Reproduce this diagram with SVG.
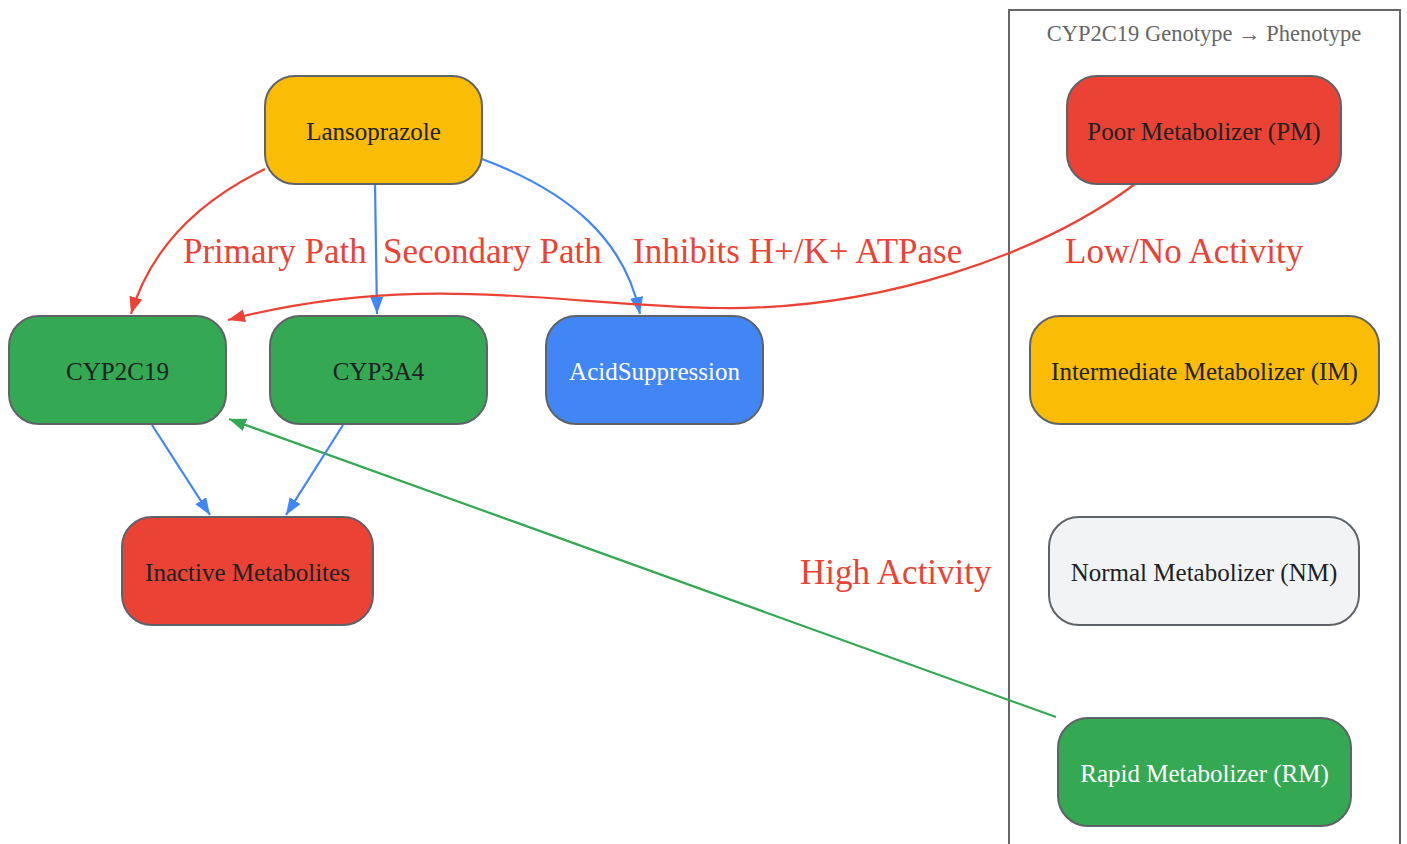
<svg xmlns="http://www.w3.org/2000/svg" width="1407" height="844" viewBox="0 0 1407 844">
<style>
.node rect{stroke:#5f6368;stroke-width:2}
.node text{font-family:"Liberation Serif",serif;font-size:25px;text-anchor:middle;fill:#202124}
.node text.w{fill:#ffffff}
.edge{fill:none;stroke-width:2.2}
.lbl{font-family:"Liberation Serif",serif;font-size:35px;fill:#EA4335}
</style>
<defs>
<marker id="aR" markerUnits="userSpaceOnUse" markerWidth="18" markerHeight="14" refX="17" refY="6.5" orient="auto"><path d="M0,0 L17,6.5 L0,13 z" fill="#EA4335"/></marker>
<marker id="aB" markerUnits="userSpaceOnUse" markerWidth="18" markerHeight="14" refX="17" refY="6.5" orient="auto"><path d="M0,0 L17,6.5 L0,13 z" fill="#4285F4"/></marker>
<marker id="aG" markerUnits="userSpaceOnUse" markerWidth="18" markerHeight="14" refX="17" refY="6.5" orient="auto"><path d="M0,0 L17,6.5 L0,13 z" fill="#34A853"/></marker>
</defs>
<rect width="1407" height="844" fill="#ffffff"/>
<g id="cluster">
<rect x="1009" y="10" width="391" height="850" fill="none" stroke="#666666" stroke-width="2"/>
<text x="1204" y="41" font-family="'Liberation Serif',serif" font-size="22.5" fill="#666666" text-anchor="middle">CYP2C19 Genotype → Phenotype</text>
</g>
<g id="connectors">
<path class="edge" stroke="#EA4335" marker-end="url(#aR)" d="M265,169 C195,203 150,250 131,314"/>
<path class="edge" stroke="#4285F4" marker-end="url(#aB)" d="M375,184 L377,314"/>
<path class="edge" stroke="#4285F4" marker-end="url(#aB)" d="M482,159 C570,192 625,240 640,314"/>
<path class="edge" stroke="#EA4335" marker-end="url(#aR)" d="M1135,184 C1040,255 880,310 720,308 C560,306 420,270 228,320"/>
<path class="edge" stroke="#34A853" marker-end="url(#aG)" d="M1056,717 L229,419"/>
<path class="edge" stroke="#4285F4" marker-end="url(#aB)" d="M152,425 L210,515"/>
<path class="edge" stroke="#4285F4" marker-end="url(#aB)" d="M343,425 L286,515"/>
<text class="lbl" x="183" y="263">Primary Path</text>
<text class="lbl" x="383" y="263">Secondary Path</text>
<text class="lbl" x="633" y="263">Inhibits H+/K+ ATPase</text>
<text class="lbl" x="1065" y="263">Low/No Activity</text>
<text class="lbl" x="800" y="584">High Activity</text>
</g>
<g id="Lansoprazole" class="node"><rect x="265" y="76" width="217" height="108" rx="30" fill="#FBBC05"/><text x="373.5" y="140">Lansoprazole</text></g>
<g id="CYP2C19" class="node"><rect x="9" y="316" width="217" height="108" rx="30" fill="#34A853"/><text x="117.5" y="380">CYP2C19</text></g>
<g id="CYP3A4" class="node"><rect x="270" y="316" width="217" height="108" rx="30" fill="#34A853"/><text x="378.5" y="380">CYP3A4</text></g>
<g id="AcidSuppression" class="node"><rect x="546" y="316" width="217" height="108" rx="30" fill="#4285F4"/><text class="w" x="654.5" y="380">AcidSuppression</text></g>
<g id="InactiveMetabolites" class="node"><rect x="122" y="517" width="251" height="108" rx="30" fill="#EA4335"/><text x="247.5" y="581">Inactive Metabolites</text></g>
<g id="PM" class="node"><rect x="1067" y="76" width="274" height="108" rx="30" fill="#EA4335"/><text x="1204" y="140">Poor Metabolizer (PM)</text></g>
<g id="IM" class="node"><rect x="1030" y="316" width="349" height="108" rx="30" fill="#FBBC05"/><text x="1204.5" y="380">Intermediate Metabolizer (IM)</text></g>
<g id="NM" class="node"><rect x="1049" y="517" width="310" height="108" rx="30" fill="#F1F3F4"/><text x="1204" y="581">Normal Metabolizer (NM)</text></g>
<g id="RM" class="node"><rect x="1058" y="718" width="293" height="108" rx="30" fill="#34A853"/><text class="w" x="1204.5" y="782">Rapid Metabolizer (RM)</text></g>
</svg>
